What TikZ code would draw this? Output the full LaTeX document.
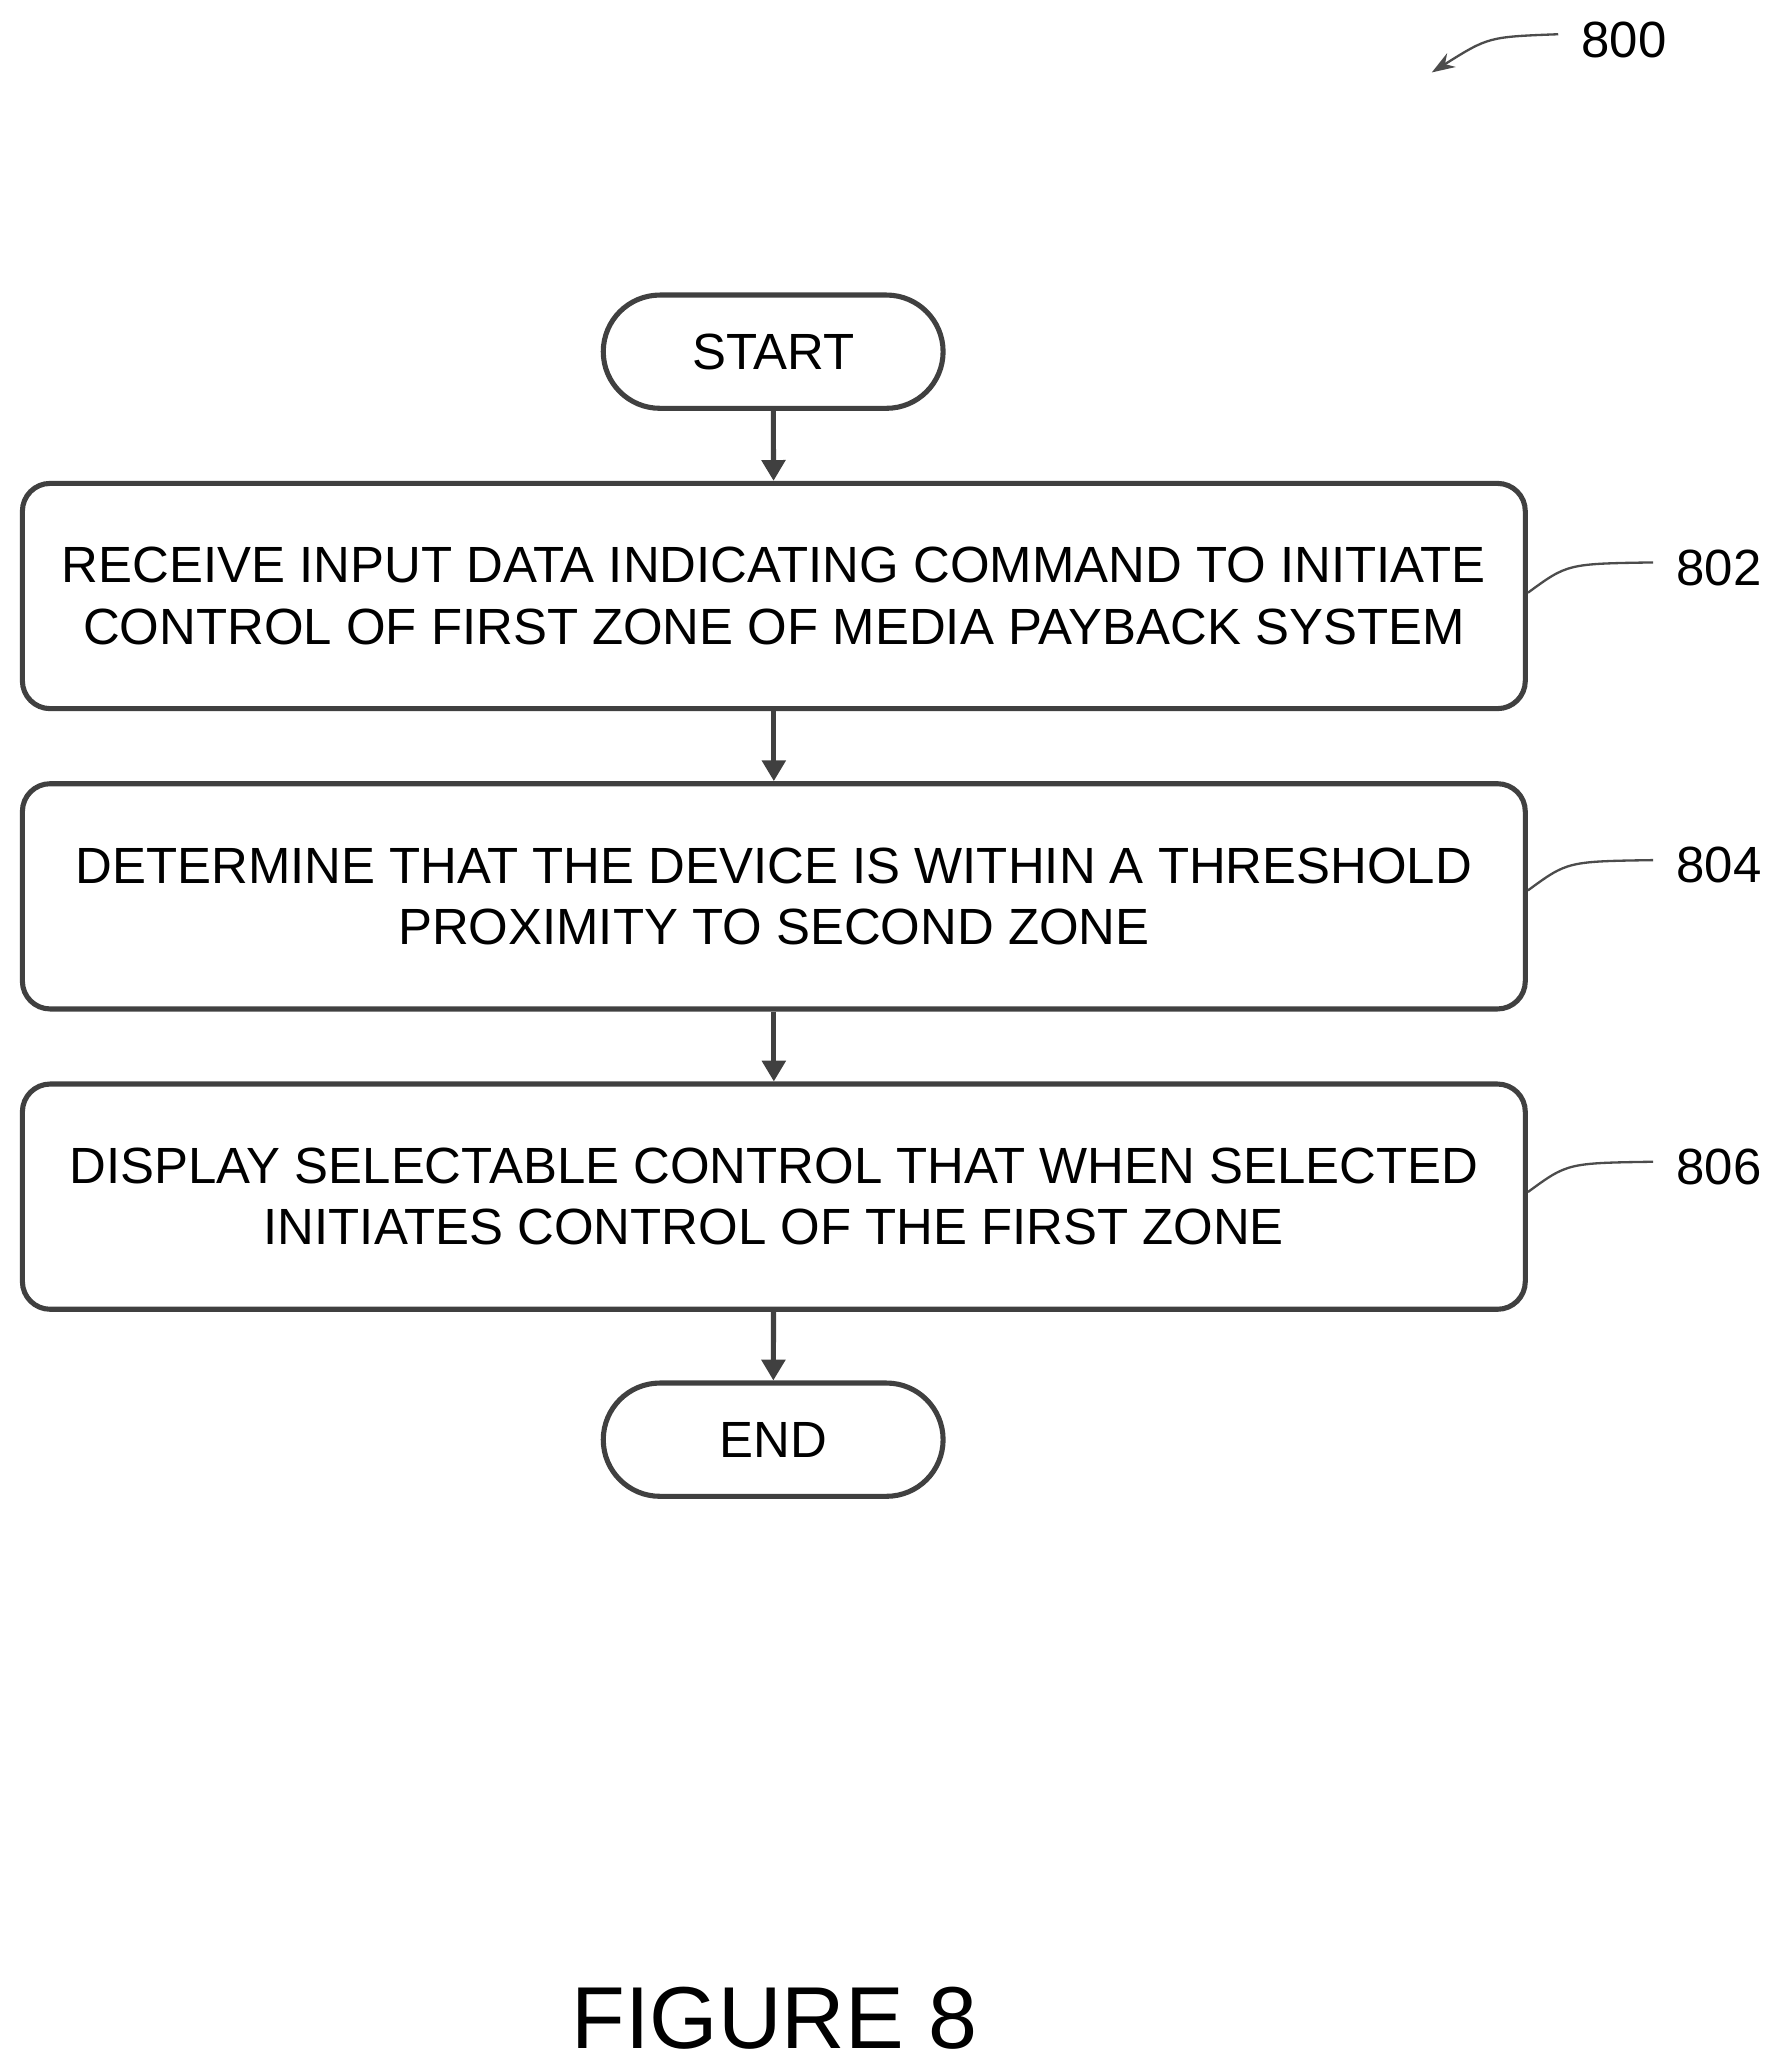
\documentclass[tikz,border=0pt]{standalone}
\usepackage{fontspec}
\setmainfont{Liberation Sans}
\usetikzlibrary{arrows.meta}
\begin{document}
\begin{tikzpicture}[x=0.02cm,y=-0.02cm,
  box/.style={draw=black!75,line width=2.2pt,rounded corners=12pt,minimum width=1141*0.02cm,minimum height=171*0.02cm,align=center,font=\fontsize{22}{26.5}\selectfont},
  term/.style={draw=black!75,line width=2.2pt,rounded corners=43*0.02cm,minimum width=258*0.02cm,minimum height=86*0.02cm,font=\fontsize{22}{26}\selectfont},
  arr/.style={-{Triangle[length=9pt,width=10pt]},line width=2.2pt,draw=black!75},
  lead/.style={line width=1pt,draw=black!70},
  lab/.style={font=\fontsize{22}{26}\selectfont}]
\useasboundingbox (0,0) rectangle (1350,1567);
\node[term] (s) at (587,267) {START};
\node[box] (b1) at (587.5,452.5) {RECEIVE INPUT DATA INDICATING COMMAND TO INITIATE\\CONTROL OF FIRST ZONE OF MEDIA PAYBACK SYSTEM};
\node[box] (b2) at (587.5,680.5) {DETERMINE THAT THE DEVICE IS WITHIN A THRESHOLD\\PROXIMITY TO SECOND ZONE};
\node[box] (b3) at (587.5,908.5) {DISPLAY SELECTABLE CONTROL THAT WHEN SELECTED\\INITIATES CONTROL OF THE FIRST ZONE};
\node[term] (e) at (587,1093) {END};
\draw[arr] (s) -- (b1);
\draw[arr] (b1) -- (b2);
\draw[arr] (b2) -- (b3);
\draw[arr] (b3) -- (e);
\node[lab] (l1) at (1305,431) {802};
\node[lab] (l2) at (1305,657) {804};
\node[lab] (l3) at (1305,886) {806};
\coordinate (c1) at (1160,450); \coordinate (c2) at (1160,676); \coordinate (c3) at (1160,905);
\draw[lead] (c1) .. controls (1190,428) .. (1255,427);
\draw[lead] (c2) .. controls (1190,654) .. (1255,653);
\draw[lead] (c3) .. controls (1190,883) .. (1255,882);
\node[lab] (l0) at (1233,30) {800};
\coordinate (a0) at (1183,26); \coordinate (a1) at (1087,55);
\draw[line width=1pt,draw=black!70,-{Stealth[length=10pt,width=7pt]}] (a0) .. controls (1130,28) .. (a1);
\node[font=\fontsize{38}{44}\selectfont] (fig) at (588,1532) {FIGURE 8};
\end{tikzpicture}
\end{document}
